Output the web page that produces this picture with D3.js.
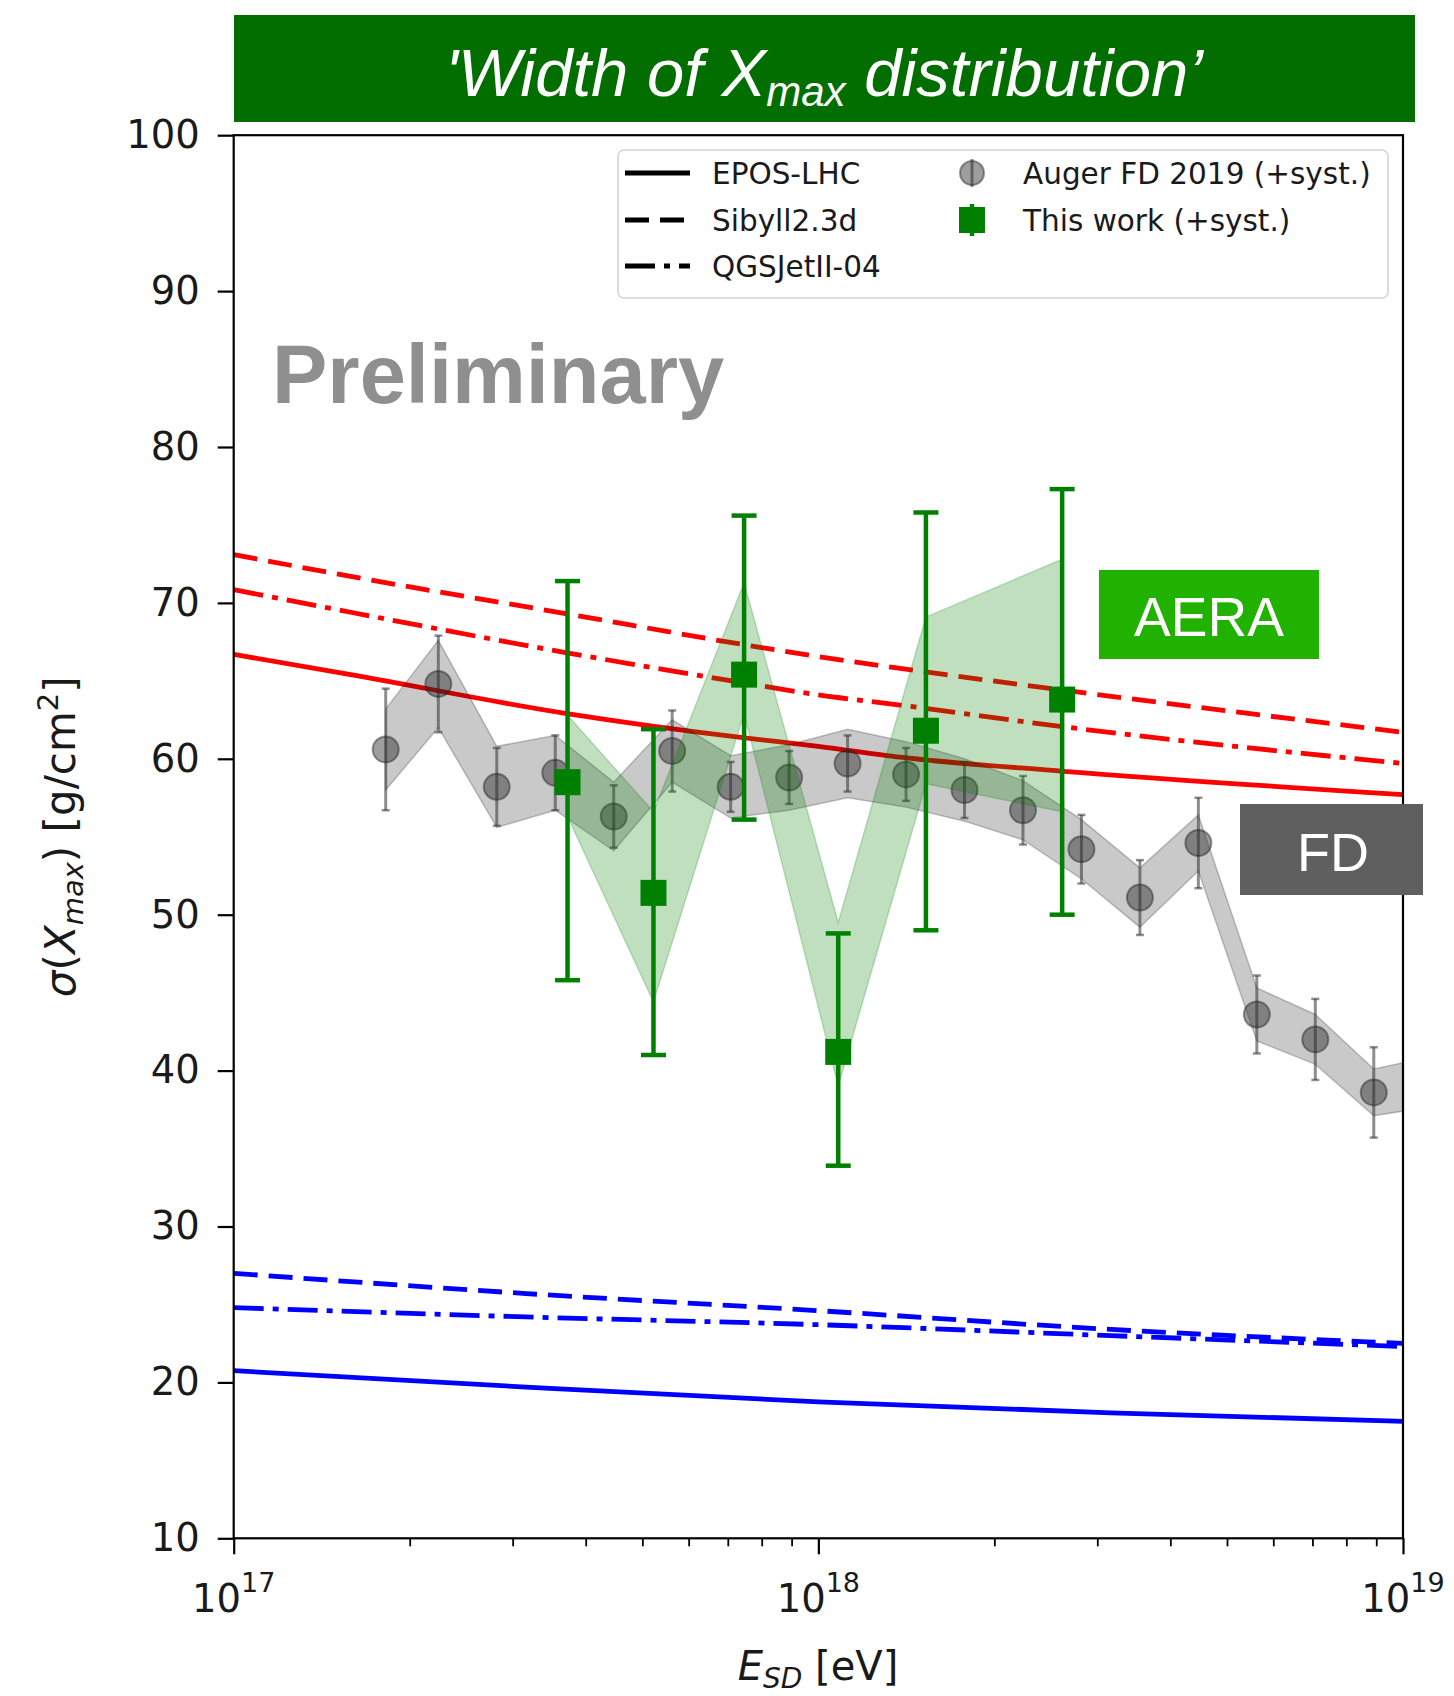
<!DOCTYPE html>
<html>
<head>
<meta charset="utf-8">
<script src="https://cdn.jsdelivr.net/npm/d3@7"></script>
<style>
  html, body { margin: 0; padding: 0; background: #fff; }
  svg { display: block; }
</style>
</head>
<body>
<svg id="chart" width="1454" height="1696"></svg>
<script>
// ---------------- data (energies as log10(E/eV), widths in g/cm^2) ----------------

// Model predictions, proton (red)
const protonEnergy = [17.0, 17.2, 17.57, 17.86, 18.0, 18.14, 18.42, 19.0];
const eposProton   = [66.7, 65.4, 62.9, 61.4, 60.8, 60.1, 59.2, 57.7];
const sibyllProton = [73.1, 71.7, 69.3, 67.4, 66.55, 65.8, 64.4, 61.7];
const qgsjetProton = [70.85, 69.4, 66.8, 64.95, 64.1, 63.45, 62.05, 59.7];

// Model predictions, iron (blue)
const ironEnergy = [17.0, 17.5, 18.0, 18.5, 19.0];
const eposIron   = [20.75, 19.7, 18.75, 18.05, 17.5];
const sibyllIron = [27.0, 25.7, 24.6, 23.4, 22.5];
const qgsjetIron = [24.8, 24.2, 23.7, 23.0, 22.3];

// Auger FD 2019
const fdEnergy = [17.26, 17.35, 17.45, 17.55, 17.65, 17.75, 17.85, 17.95, 18.05, 18.15,
                  18.25, 18.35, 18.45, 18.55, 18.65, 18.75, 18.85, 18.95, 19.05];
const fdSigma  = [60.6, 64.8, 58.2, 59.1, 56.3, 60.5, 58.2, 58.8, 59.7, 59.0,
                  58.0, 56.7, 54.2, 51.1, 54.6, 43.6, 42.0, 38.6, 39.3];
const fdStat   = [3.9, 3.1, 2.5, 2.4, 2.0, 2.6, 1.6, 1.7, 1.8, 1.7,
                  1.8, 2.2, 2.2, 2.4, 2.9, 2.5, 2.6, 2.9, 3.0];
const fdSyst   = [2.6, 2.8, 2.6, 2.4, 2.2, 2.0, 2.0, 2.1, 2.2, 2.1,
                  2.0, 1.9, 1.9, 1.9, 1.8, 1.7, 1.6, 1.5, 1.6];

// AERA (this work)
const aeraEnergy    = [17.571, 17.718, 17.873, 18.034, 18.184, 18.417];
const aeraSigma     = [58.5, 51.4, 65.4, 41.2, 61.8, 63.8];
const aeraStatUp    = [12.9, 10.5, 10.2, 7.6, 14.0, 13.5];
const aeraStatLow   = [12.7, 10.4, 9.3, 7.3, 12.8, 13.8];
const aeraSystUp    = [4.3, 5.2, 5.9, 8.3, 7.3, 9.0];
const aeraSystLow   = [2.2, 7.0, 2.5, 2.2, 3.4, 7.2];

// Axis ticks
const yTicks = [10, 20, 30, 40, 50, 60, 70, 80, 90, 100];
const xDecades = [17, 18, 19];

// Legend entries
const modelNames = ["EPOS-LHC", "Sibyll2.3d", "QGSJetII-04"];
const dataNames = ["Auger FD 2019 (+syst.)", "This work (+syst.)"];

// ---------------- layout ----------------
const plotL = 233.7, plotR = 1403, plotT = 135.2, plotB = 1538.3;
const svg = d3.select("#chart");

const x = d3.scaleLog().domain([1e17, 1e19]).range([plotL, plotR]);
const y = d3.scaleLinear().domain([10, 100]).range([plotB, plotT]);
const X = lg => x(Math.pow(10, lg));

const LINE_W = 4.8;
const DASH = "24 11";
const DASHDOT = "30 9 6 9";
const styles = [null, DASH, DASHDOT];

svg.append("defs").append("clipPath").attr("id", "plotClip")
  .append("rect").attr("x", plotL).attr("y", plotT)
  .attr("width", plotR - plotL).attr("height", plotB - plotT);

// ---------------- title banner ----------------
svg.append("rect").attr("x", 234).attr("y", 15).attr("width", 1181).attr("height", 107)
  .attr("fill", "#036e00");
const title = svg.append("text")
  .attr("x", 824).attr("y", 96).attr("text-anchor", "middle")
  .attr("font-family", "'Liberation Sans', Arial, sans-serif")
  .attr("font-style", "italic").attr("font-size", 67).attr("fill", "#fff");
title.append("tspan").text("'Width of X");
title.append("tspan").attr("font-size", 42).attr("dy", 10).text("max");
title.append("tspan").attr("dy", -10).text(" distribution\u2019");

const plot = svg.append("g").attr("clip-path", "url(#plotClip)");

// ---------------- model lines ----------------
const mkLine = en => d3.line()
  .x((d, i) => X(en[i]))
  .y(d => y(d))
  .curve(d3.curveMonotoneX);

const models = [
  { en: protonEnergy, vals: eposProton,   color: "#ff0000", dash: styles[0] },
  { en: protonEnergy, vals: sibyllProton, color: "#ff0000", dash: styles[1] },
  { en: protonEnergy, vals: qgsjetProton, color: "#ff0000", dash: styles[2] },
  { en: ironEnergy,   vals: eposIron,     color: "#0000ff", dash: styles[0] },
  { en: ironEnergy,   vals: sibyllIron,   color: "#0000ff", dash: styles[1] },
  { en: ironEnergy,   vals: qgsjetIron,   color: "#0000ff", dash: styles[2] }
];
models.forEach(m => {
  plot.append("path")
    .attr("d", mkLine(m.en)(m.vals))
    .attr("fill", "none")
    .attr("stroke", m.color)
    .attr("stroke-width", LINE_W)
    .attr("stroke-dasharray", m.dash);
});

// ---------------- Auger FD band + points ----------------
const fdIdx = d3.range(fdEnergy.length);
const fdArea = d3.area()
  .x(i => X(fdEnergy[i]))
  .y0(i => y(fdSigma[i] - fdSyst[i]))
  .y1(i => y(fdSigma[i] + fdSyst[i]));
plot.append("path").attr("d", fdArea(fdIdx))
  .attr("fill", "rgba(0,0,0,0.21)")
  .attr("stroke", "rgba(0,0,0,0.22)").attr("stroke-width", 1.5);

const fdG = plot.append("g");
fdIdx.forEach(i => {
  const cx = X(fdEnergy[i]);
  const y0 = y(fdSigma[i] - fdStat[i]), y1 = y(fdSigma[i] + fdStat[i]);
  fdG.append("line").attr("x1", cx).attr("x2", cx).attr("y1", y0).attr("y2", y1)
    .attr("stroke", "rgba(50,50,50,0.55)").attr("stroke-width", 3);
  [y0, y1].forEach(yy => fdG.append("line")
    .attr("x1", cx - 4).attr("x2", cx + 4).attr("y1", yy).attr("y2", yy)
    .attr("stroke", "rgba(50,50,50,0.55)").attr("stroke-width", 2.5));
  fdG.append("circle").attr("cx", cx).attr("cy", y(fdSigma[i])).attr("r", 13)
    .attr("fill", "rgba(40,40,40,0.45)")
    .attr("stroke", "rgba(30,30,30,0.45)").attr("stroke-width", 2);
});

// ---------------- AERA band + points ----------------
const aIdx = d3.range(aeraEnergy.length);
const aeraArea = d3.area()
  .x(i => X(aeraEnergy[i]))
  .y0(i => y(aeraSigma[i] - aeraSystLow[i]))
  .y1(i => y(aeraSigma[i] + aeraSystUp[i]));
plot.append("path").attr("d", aeraArea(aIdx))
  .attr("fill", "rgba(0,128,0,0.25)")
  .attr("stroke", "rgba(0,128,0,0.22)").attr("stroke-width", 1.5);

const aG = plot.append("g");
aIdx.forEach(i => {
  const cx = X(aeraEnergy[i]);
  const y0 = y(aeraSigma[i] - aeraStatLow[i]), y1 = y(aeraSigma[i] + aeraStatUp[i]);
  aG.append("line").attr("x1", cx).attr("x2", cx).attr("y1", y0).attr("y2", y1)
    .attr("stroke", "#008000").attr("stroke-width", 4.5);
  [y0, y1].forEach(yy => aG.append("line")
    .attr("x1", cx - 12.5).attr("x2", cx + 12.5).attr("y1", yy).attr("y2", yy)
    .attr("stroke", "#008000").attr("stroke-width", 4.5));
  aG.append("rect").attr("x", cx - 13).attr("y", y(aeraSigma[i]) - 13)
    .attr("width", 26).attr("height", 26).attr("fill", "#008000");
});

// ---------------- frame and axes ----------------
svg.append("rect").attr("x", plotL).attr("y", plotT)
  .attr("width", plotR - plotL).attr("height", plotB - plotT)
  .attr("fill", "none").attr("stroke", "#000").attr("stroke-width", 2.2);

const gy = svg.append("g").attr("transform", `translate(${plotL},0)`)
  .call(d3.axisLeft(y).tickValues(yTicks).tickSize(16).tickPadding(18).tickFormat(d3.format("d")));
gy.select(".domain").remove();
gy.selectAll(".tick line").attr("stroke", "#000").attr("stroke-width", 2.2);
gy.selectAll(".tick text").attr("font-family", "'DejaVu Sans', sans-serif")
  .attr("font-size", 38.5).attr("fill", "#1a1a1a");

const minorTicks = [];
[17, 18].forEach(d => { for (let k = 2; k <= 9; k++) minorTicks.push(k * Math.pow(10, d)); });
const gxMinor = svg.append("g").attr("transform", `translate(0,${plotB})`)
  .call(d3.axisBottom(x).tickValues(minorTicks).tickSize(8).tickFormat(""));
gxMinor.select(".domain").remove();
gxMinor.selectAll(".tick line").attr("stroke", "#000").attr("stroke-width", 1.8);

const gx = svg.append("g").attr("transform", `translate(0,${plotB})`)
  .call(d3.axisBottom(x).tickValues(xDecades.map(d => Math.pow(10, d))).tickSize(16).tickFormat(""));
gx.select(".domain").remove();
gx.selectAll(".tick line").attr("stroke", "#000").attr("stroke-width", 2.2);

xDecades.forEach(d => {
  const t = svg.append("text").attr("x", X(d)).attr("y", 1612)
    .attr("text-anchor", "middle").attr("font-family", "'DejaVu Sans', sans-serif")
    .attr("font-size", 38.5).attr("fill", "#1a1a1a");
  t.append("tspan").text("10");
  t.append("tspan").attr("font-size", 27).attr("dy", -20).text(String(d));
});

// axis titles
const yl = svg.append("text")
  .attr("transform", `translate(75,${(plotT + plotB) / 2}) rotate(-90)`)
  .attr("text-anchor", "middle").attr("font-family", "'DejaVu Sans', sans-serif")
  .attr("font-size", 42).attr("fill", "#1a1a1a");
yl.append("tspan").attr("font-style", "italic").text("\u03c3");
yl.append("tspan").text("(");
yl.append("tspan").attr("font-style", "italic").text("X");
yl.append("tspan").attr("font-style", "italic").attr("font-size", 29).attr("dy", 8).text("max");
yl.append("tspan").attr("dy", -8).text(") [g/cm");
yl.append("tspan").attr("font-size", 29).attr("dy", -17).text("2");
yl.append("tspan").attr("dy", 17).text("]");

const xl = svg.append("text").attr("x", 818).attr("y", 1680)
  .attr("text-anchor", "middle").attr("font-family", "'DejaVu Sans', sans-serif")
  .attr("font-size", 40).attr("fill", "#1a1a1a");
xl.append("tspan").attr("font-style", "italic").text("E");
xl.append("tspan").attr("font-style", "italic").attr("font-size", 28).attr("dy", 8).text("SD");
xl.append("tspan").attr("dy", -8).text(" [eV]");

// ---------------- legend ----------------
const lg = svg.append("g");
lg.append("rect").attr("x", 618).attr("y", 150).attr("width", 770).attr("height", 148)
  .attr("rx", 6).attr("fill", "#fff").attr("stroke", "#d4d4d4").attr("stroke-width", 1.6);
const rowY = [173, 220, 266];
modelNames.forEach((name, i) => {
  lg.append("line").attr("x1", 625).attr("x2", 690).attr("y1", rowY[i]).attr("y2", rowY[i])
    .attr("stroke", "#000").attr("stroke-width", LINE_W).attr("stroke-dasharray", styles[i]);
  lg.append("text").attr("x", 712).attr("y", rowY[i] + 10.5)
    .attr("font-family", "'DejaVu Sans', sans-serif").attr("font-size", 29.5)
    .attr("fill", "#1a1a1a").text(name);
});
// FD marker
lg.append("line").attr("x1", 972).attr("x2", 972).attr("y1", rowY[0] - 14).attr("y2", rowY[0] + 14)
  .attr("stroke", "rgba(50,50,50,0.55)").attr("stroke-width", 3);
lg.append("circle").attr("cx", 972).attr("cy", rowY[0]).attr("r", 12)
  .attr("fill", "rgba(40,40,40,0.45)").attr("stroke", "rgba(30,30,30,0.45)").attr("stroke-width", 2);
// AERA marker
lg.append("line").attr("x1", 972).attr("x2", 972).attr("y1", rowY[1] - 16).attr("y2", rowY[1] + 16)
  .attr("stroke", "#008000").attr("stroke-width", 4.5);
lg.append("rect").attr("x", 959).attr("y", rowY[1] - 13).attr("width", 26).attr("height", 26)
  .attr("fill", "#008000");
dataNames.forEach((name, i) => {
  lg.append("text").attr("x", 1023).attr("y", rowY[i] + 10.5)
    .attr("font-family", "'DejaVu Sans', sans-serif").attr("font-size", 29.5)
    .attr("fill", "#1a1a1a").text(name);
});

// ---------------- annotations ----------------
svg.append("text").attr("x", 272).attr("y", 403)
  .attr("font-family", "'Liberation Sans', Arial, sans-serif").attr("font-weight", "bold")
  .attr("font-size", 83).attr("fill", "#8f8f8f").text("Preliminary");

svg.append("rect").attr("x", 1099).attr("y", 570).attr("width", 220).attr("height", 89)
  .attr("fill", "#21b200");
svg.append("text").attr("x", 1209).attr("y", 636).attr("text-anchor", "middle")
  .attr("font-family", "'Liberation Sans', Arial, sans-serif")
  .attr("font-size", 55).attr("fill", "#fff").text("AERA");

svg.append("rect").attr("x", 1240).attr("y", 804).attr("width", 183).attr("height", 91)
  .attr("fill", "#5f5f5f");
svg.append("text").attr("x", 1333).attr("y", 871).attr("text-anchor", "middle")
  .attr("font-family", "'Liberation Sans', Arial, sans-serif")
  .attr("font-size", 54).attr("fill", "#fff").text("FD");
</script>
</body>
</html>
